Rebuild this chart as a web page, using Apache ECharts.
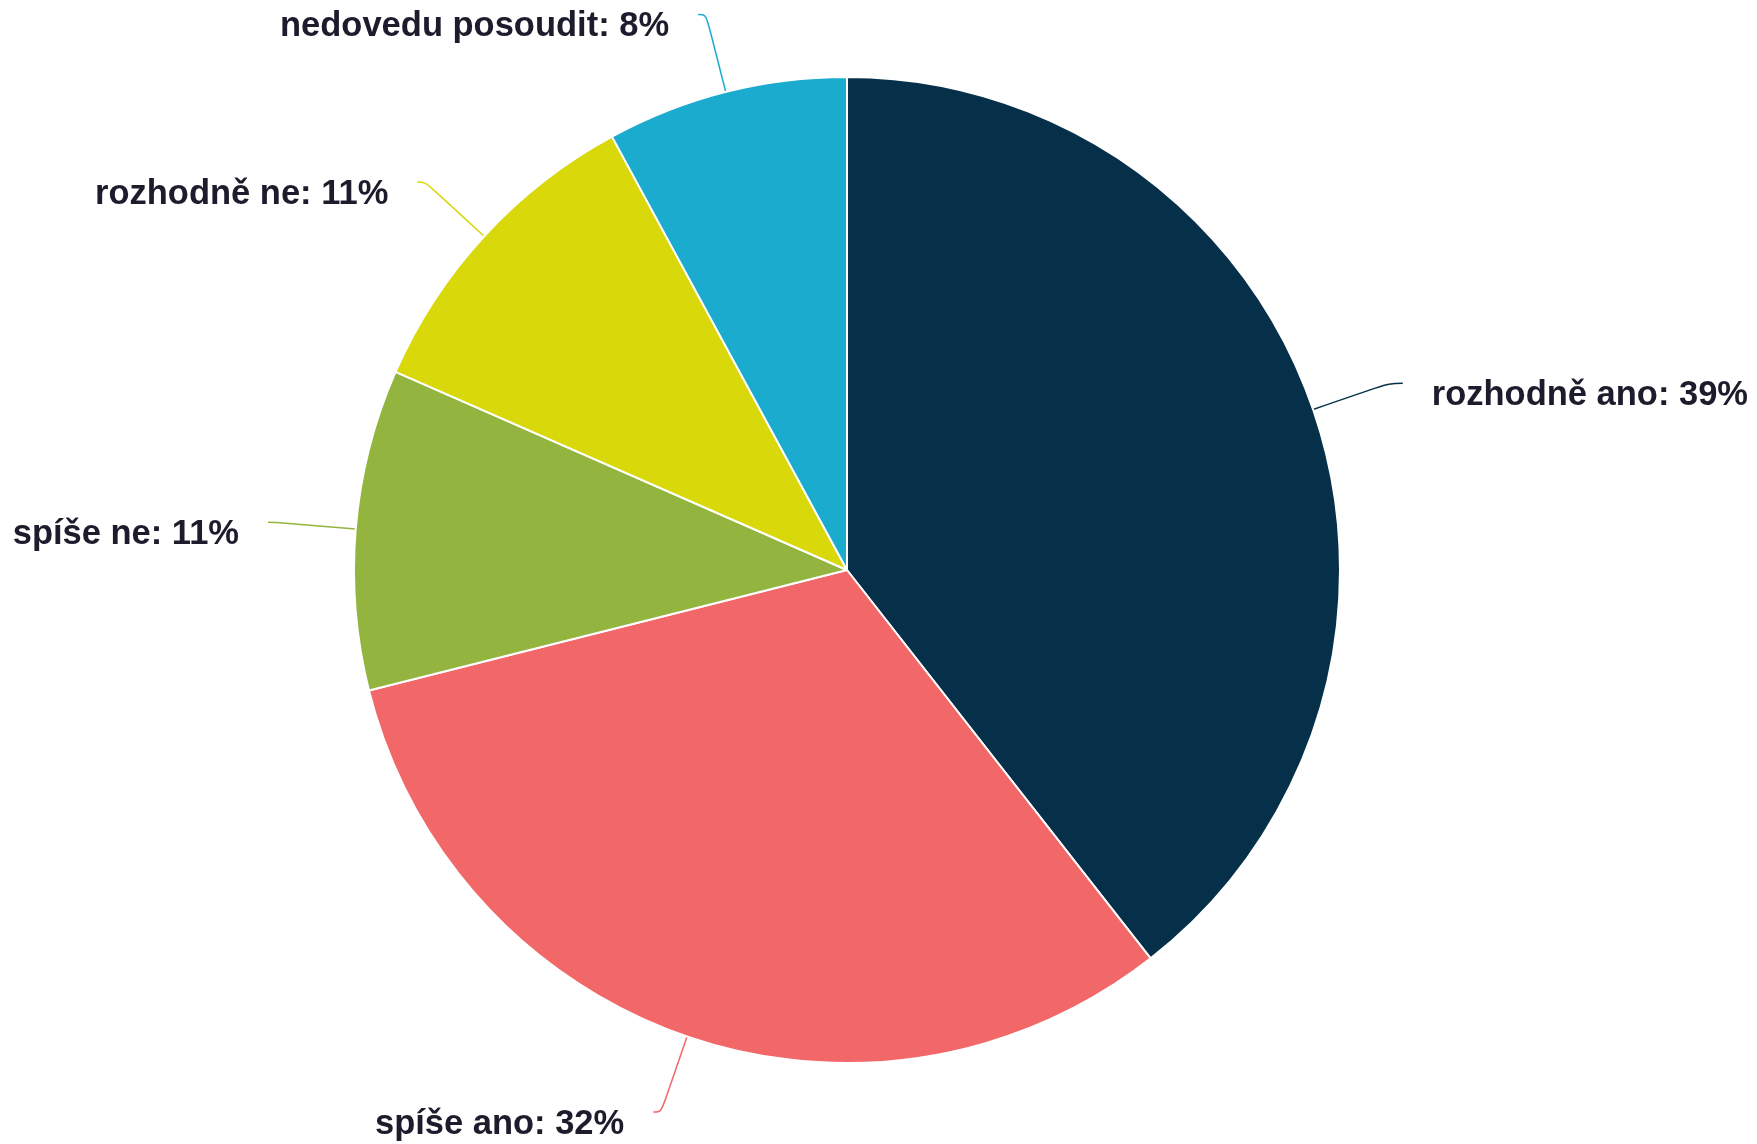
<!DOCTYPE html>
<html>
<head>
<meta charset="utf-8">
<script src="https://cdn.jsdelivr.net/npm/echarts@6/dist/echarts.min.js"></script>
<style>
    html, body { margin: 0; padding: 0; background: #fff; }
    #chartPie { width: 1757px; height: 1144px; }
</style>
</head>
<body>
<div id="chartPie"></div>
<script>
    // kategorie a hodnoty (odhad z vysece)
    var categories = ['rozhodně ano', 'spíše ano', 'spíše ne', 'rozhodně ne', 'nedovedu posoudit'];
    var values = [39.4, 31.6, 10.5, 10.5, 7.9];
    var colors = ['#06304a', '#f26768', '#93b53f', '#d8d80b', '#1aabcf'];

    var chartPie = echarts.init(document.getElementById('chartPie'));
    chartPie.setOption({
        animation: false,
        series: [
            {
                name: 'odpovedi',
                type: 'pie',
                center: [847, 570],
                radius: 493,
                startAngle: 90,
                clockwise: true,
                avoidLabelOverlap: false,
                data: categories.map(function (c, i) {
                    var item = { name: c, value: values[i], itemStyle: { color: colors[i] } };
                    if (i === 0) {
                        item.labelLine = { length2: 14 };
                    }
                    return item;
                }),
                itemStyle: {
                    borderColor: '#fff',
                    borderWidth: 2
                },
                label: {
                    show: true,
                    position: 'outside',
                    formatter: function (p) {
                        return p.name + ': ' + Math.round(p.value) + '%';
                    },
                    fontFamily: 'Liberation Sans, Arial, sans-serif',
                    fontWeight: 'bold',
                    fontSize: 34.5,
                    color: '#1c1c2c',
                    distanceToLabelLine: 29
                },
                labelLayout: { dy: 12 },
                labelLine: {
                    show: true,
                    length: 80,
                    length2: 8,
                    smooth: 0.4,
                    lineStyle: { width: 1.5 }
                },
                emphasis: { disabled: true }
            }
        ]
    });
</script>
</body>
</html>
